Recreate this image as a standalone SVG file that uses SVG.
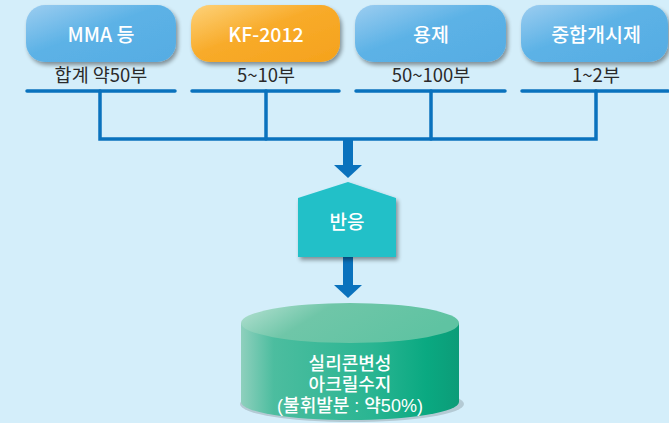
<svg xmlns="http://www.w3.org/2000/svg" width="669" height="423" viewBox="0 0 669 423">
<defs>
<linearGradient id="gBlue" x1="0" y1="0" x2="1" y2="1">
<stop offset="0" stop-color="#9ccdf0"/>
<stop offset="0.45" stop-color="#5cb2e6"/>
<stop offset="1" stop-color="#56ace3"/>
</linearGradient>
<linearGradient id="gOrange" x1="0" y1="0" x2="1" y2="1">
<stop offset="0" stop-color="#fdd27a"/>
<stop offset="0.45" stop-color="#f8ab2a"/>
<stop offset="1" stop-color="#f5a21c"/>
</linearGradient>
<linearGradient id="gCyl" x1="0" y1="0" x2="1" y2="0">
<stop offset="0" stop-color="#8fd0bd"/>
<stop offset="0.15" stop-color="#4cbd9f"/>
<stop offset="0.6" stop-color="#2ab592"/>
<stop offset="0.85" stop-color="#0aa981"/>
<stop offset="1" stop-color="#0c9c78"/>
</linearGradient>
<linearGradient id="gTop" x1="0" y1="0" x2="1" y2="0.3">
<stop offset="0" stop-color="#b9e2d4"/>
<stop offset="0.4" stop-color="#6fc6a8"/>
<stop offset="1" stop-color="#5fc3a2"/>
</linearGradient>
<filter id="sh" x="-20%" y="-20%" width="140%" height="150%">
<feGaussianBlur in="SourceAlpha" stdDeviation="2"/>
<feOffset dx="2" dy="3"/>
<feComponentTransfer><feFuncA type="linear" slope="0.4"/></feComponentTransfer>
<feMerge><feMergeNode/><feMergeNode in="SourceGraphic"/></feMerge>
</filter>
</defs>
<style>
.bt{font-family:"Noto Sans CJK KR","Noto Sans",sans-serif;font-size:19.5px;font-weight:500;fill:#ffffff;text-anchor:middle}
.sub{font-family:"Noto Sans CJK KR","Noto Sans",sans-serif;font-size:18.5px;font-weight:400;fill:#2a2a2a;text-anchor:middle}
.ln{stroke:#0a72bd;stroke-width:3.5;fill:none;stroke-linecap:round}
.arr{fill:#0a72bd}
.ct{font-family:"Noto Sans CJK KR","Noto Sans",sans-serif;font-size:19px;font-weight:500;fill:#ffffff;text-anchor:middle}
.cl{font-family:"Liberation Sans","Noto Sans CJK KR",sans-serif;font-size:18px;font-weight:500;fill:#ffffff;text-anchor:middle}
</style>
<rect width="669" height="423" fill="#d4eefa"/>

<g id="node-mma">
<rect x="26" y="5" width="150" height="57" rx="19" fill="url(#gBlue)" filter="url(#sh)"/>
<text class="bt" x="101" y="42">MMA 등</text>
<text class="sub" x="101" y="82">합계 약50부</text>
</g>
<g id="node-kf">
<rect x="191" y="5" width="149" height="57" rx="19" fill="url(#gOrange)" filter="url(#sh)"/>
<text class="bt" x="266" y="42">KF-2012</text>
<text class="sub" x="266" y="82">5~10부</text>
</g>
<g id="node-solvent">
<rect x="355" y="5" width="151" height="57" rx="19" fill="url(#gBlue)" filter="url(#sh)"/>
<text class="bt" x="431" y="42">용제</text>
<text class="sub" x="431" y="82">50~100부</text>
</g>
<g id="node-initiator">
<rect x="521" y="5" width="147" height="57" rx="19" fill="url(#gBlue)" filter="url(#sh)"/>
<text class="bt" x="596" y="42">중합개시제</text>
<text class="sub" x="596" y="82">1~2부</text>
</g>

<g id="connectors">
<line class="ln" x1="27" y1="91" x2="175" y2="91"/>
<line class="ln" x1="192" y1="91" x2="339" y2="91"/>
<line class="ln" x1="356" y1="91" x2="505" y2="91"/>
<line class="ln" x1="522" y1="91" x2="668" y2="91"/>
<path class="ln" d="M100 91 V139 H596 V91"/>
<line class="ln" x1="266" y1="91" x2="266" y2="139"/>
<line class="ln" x1="431" y1="91" x2="431" y2="139"/>
<rect class="arr" x="343" y="139" width="10" height="27"/>
<polygon class="arr" points="334,165 362,165 348,178"/>
<rect class="arr" x="343" y="257" width="10" height="29"/>
<polygon class="arr" points="334,285 362,285 348,298"/>
</g>

<g id="node-reaction">
<polygon points="298,198 348,182 396,198 396,257 298,257" fill="#22c0c8" filter="url(#sh)"/>
<text class="ct" x="347" y="229">반응</text>
</g>

<g id="node-resin">
<ellipse cx="352" cy="404" rx="112" ry="18" fill="#000" opacity="0.15"/>
<path d="M241 323 V402 A109 18 0 0 0 459 402 V323 Z" fill="url(#gCyl)"/>
<ellipse cx="350" cy="323" rx="109" ry="20" fill="url(#gTop)"/>
<text class="cl" x="350" y="370">실리콘변성</text>
<text class="cl" x="350" y="391">아크릴수지</text>
<text class="cl" x="350" y="412">(불휘발분 : 약50%)</text>
</g>
</svg>
